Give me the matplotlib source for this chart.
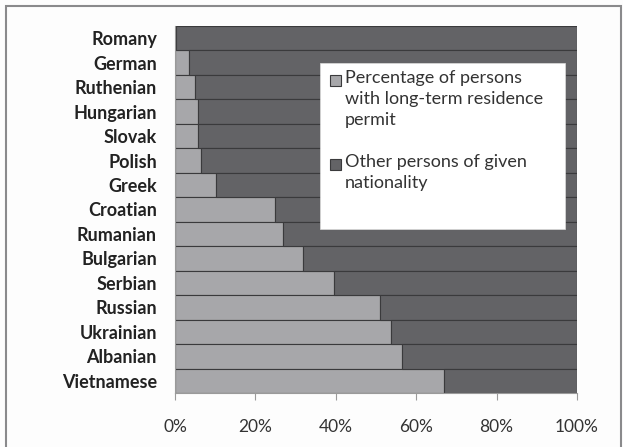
import numpy as np
import matplotlib.pyplot as plt
from matplotlib.patches import Rectangle

nationalities = ['Romany', 'German', 'Ruthenian', 'Hungarian', 'Slovak', 'Polish',
                 'Greek', 'Croatian', 'Rumanian', 'Bulgarian', 'Serbian', 'Russian',
                 'Ukrainian', 'Albanian', 'Vietnamese']
permit_pct = [0.3, 3.6, 5.0, 5.7, 5.7, 6.4, 10.1, 24.9, 26.9, 31.8, 39.5, 51.1, 53.8, 56.5, 66.9]
legend_labels = ['Percentage of persons\nwith long-term residence\npermit',
                 'Other persons of given\nnationality']

LIGHT = '#a7a7aa'
DARK = '#636366'
EDGE = '#3a3a3c'

plt.rcParams['font.family'] = ['Lato', 'DejaVu Sans']

fig = plt.figure(figsize=(6.23, 4.47), dpi=100)
fig.patch.set_facecolor('#fdfdfd')
# outer frame
fig.patches.append(Rectangle((6 / 623, -0.05), 615 / 623, 1.05 - 6 / 447,
                             transform=fig.transFigure, fill=False,
                             edgecolor='#8a8a8c', linewidth=1.5, zorder=0))

ax = fig.add_axes([175 / 623, 54 / 447, 402 / 623, 367 / 447])
ax.set_facecolor('none')

y = np.arange(len(nationalities))
other_pct = [100 - p for p in permit_pct]
ax.barh(y, permit_pct, height=1.0, color=LIGHT, edgecolor=EDGE, linewidth=0.8)
ax.barh(y, other_pct, left=permit_pct, height=1.0, color=DARK, edgecolor=EDGE, linewidth=0.8)

ax.set_ylim(len(nationalities) - 0.5, -0.5)
ax.set_xlim(0, 100)
ax.set_yticks(y)
ax.set_yticklabels(nationalities, fontweight='bold', fontsize=13, color='#222222')
ax.tick_params(axis='y', length=0, pad=13)
ax.set_xticks(np.arange(0, 101, 20))
ax.set_xticklabels([f'{v}%' for v in range(0, 101, 20)], fontsize=12.5, color='#333333')
ax.tick_params(axis='x', direction='out', length=5, color='#9a9a9a', pad=14)
for s in ['top', 'right']:
    ax.spines[s].set_visible(False)
for s in ['left', 'bottom']:
    ax.spines[s].set_color('#9a9a9a')

# legend box
W, H = 623, 447
fig.patches.append(Rectangle((320 / W, 1 - 229 / H), 245 / W, 166 / H,
                             transform=fig.transFigure, facecolor='white',
                             edgecolor='#dddddd', linewidth=0.5, zorder=5))
for (ytop, col, lab) in [(80, LIGHT, legend_labels[0]), (164, DARK, legend_labels[1])]:
    fig.patches.append(Rectangle((330 / W, 1 - (ytop + 6) / H), 11 / W, 11 / H,
                                 transform=fig.transFigure, facecolor=col,
                                 edgecolor=EDGE, linewidth=0.8, zorder=6))
    fig.text(345 / W, 1 - (ytop - 10) / H, lab, fontsize=13, color='#333333',
             va='top', ha='left', linespacing=1.38, zorder=7)

fig.savefig('out.png', dpi=100, facecolor=fig.get_facecolor())
